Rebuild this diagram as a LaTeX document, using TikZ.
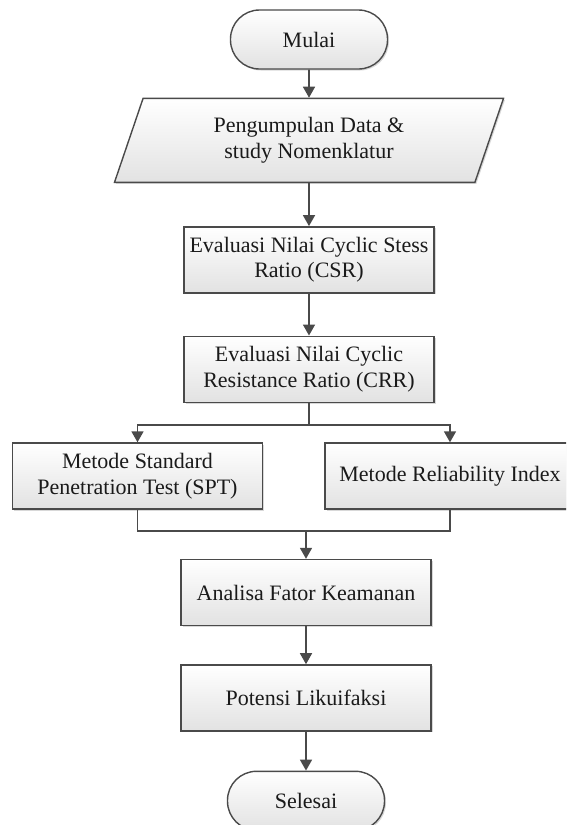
\documentclass[tikz,border=0pt]{standalone}
\usepackage{fontspec}
\setmainfont{Liberation Serif}
\usetikzlibrary{arrows.meta,positioning,shapes.geometric,shadows,calc}
\definecolor{Line}{HTML}{4A4A4A}
\definecolor{Shade}{HTML}{E2E2E2}
\definecolor{Ink}{HTML}{1A1A1A}
\begin{document}
\begin{tikzpicture}[
 x=1pt,y=1pt,
 font=\fontsize{22}{25.5}\selectfont,text=Ink,
 base/.style={draw=Line,line width=1.4pt,top color=white,bottom color=Shade,align=center,inner sep=2pt,drop shadow={shadow xshift=1.5pt,shadow yshift=-1.5pt,opacity=.3,fill=gray}},
 term/.style={base,rounded corners=29pt,minimum width=157pt,minimum height=59pt},
 io/.style={base,trapezium,trapezium left angle=60,trapezium right angle=120,trapezium stretches body,minimum width=389pt,minimum height=84pt},
 proc/.style={base,minimum width=250pt,minimum height=66pt},
 ln/.style={draw=Line,line width=1.6pt},
 arr/.style={ln,-{Triangle[length=11pt,width=12pt]}}
]
\useasboundingbox (0,0) rectangle (566,-825);
\clip (0,0) rectangle (566,-825);
\fill[white] (0,0) rectangle (566,-825);
\node[term] (mulai) at (309,-39.5) {Mulai};
\node[io,below=28pt of mulai] (data) {Pengumpulan Data \&\\study Nomenklatur};
\node[proc,below=43pt of data] (csr) {Evaluasi Nilai Cyclic Stess\\Ratio (CSR)};
\node[proc,below=42pt of csr] (crr) {Evaluasi Nilai Cyclic\\Resistance Ratio (CRR)};
\node[proc] (spt) at (137.5,-476) {Metode Standard\\Penetration Test (SPT)};
\node[proc] (ri) at (450,-476) {Metode Reliability Index};
\node[proc] (analisa) at (306,-592.5) {Analisa Fator Keamanan};
\node[proc,below=38pt of analisa] (potensi) {Potensi Likuifaksi};
\node[term,below=39pt of potensi] (selesai) {Selesai};
\coordinate (split) at ($(crr.south)+(0,-22)$);
\coordinate (merge) at ($(analisa.north)+(0,28)$);
\draw[arr] (mulai)--(data);\draw[arr] (data)--(csr);\draw[arr] (csr)--(crr);
\draw[ln] (crr.south)--(split);\draw[arr] (split)-|(spt);\draw[arr] (split)-|(ri);
\draw[ln] (spt.south)|-(merge);\draw[ln] (ri.south)|-(merge);\draw[arr] (merge)--(analisa);
\draw[arr] (analisa)--(potensi);\draw[arr] (potensi)--(selesai);
\end{tikzpicture}
\end{document}
